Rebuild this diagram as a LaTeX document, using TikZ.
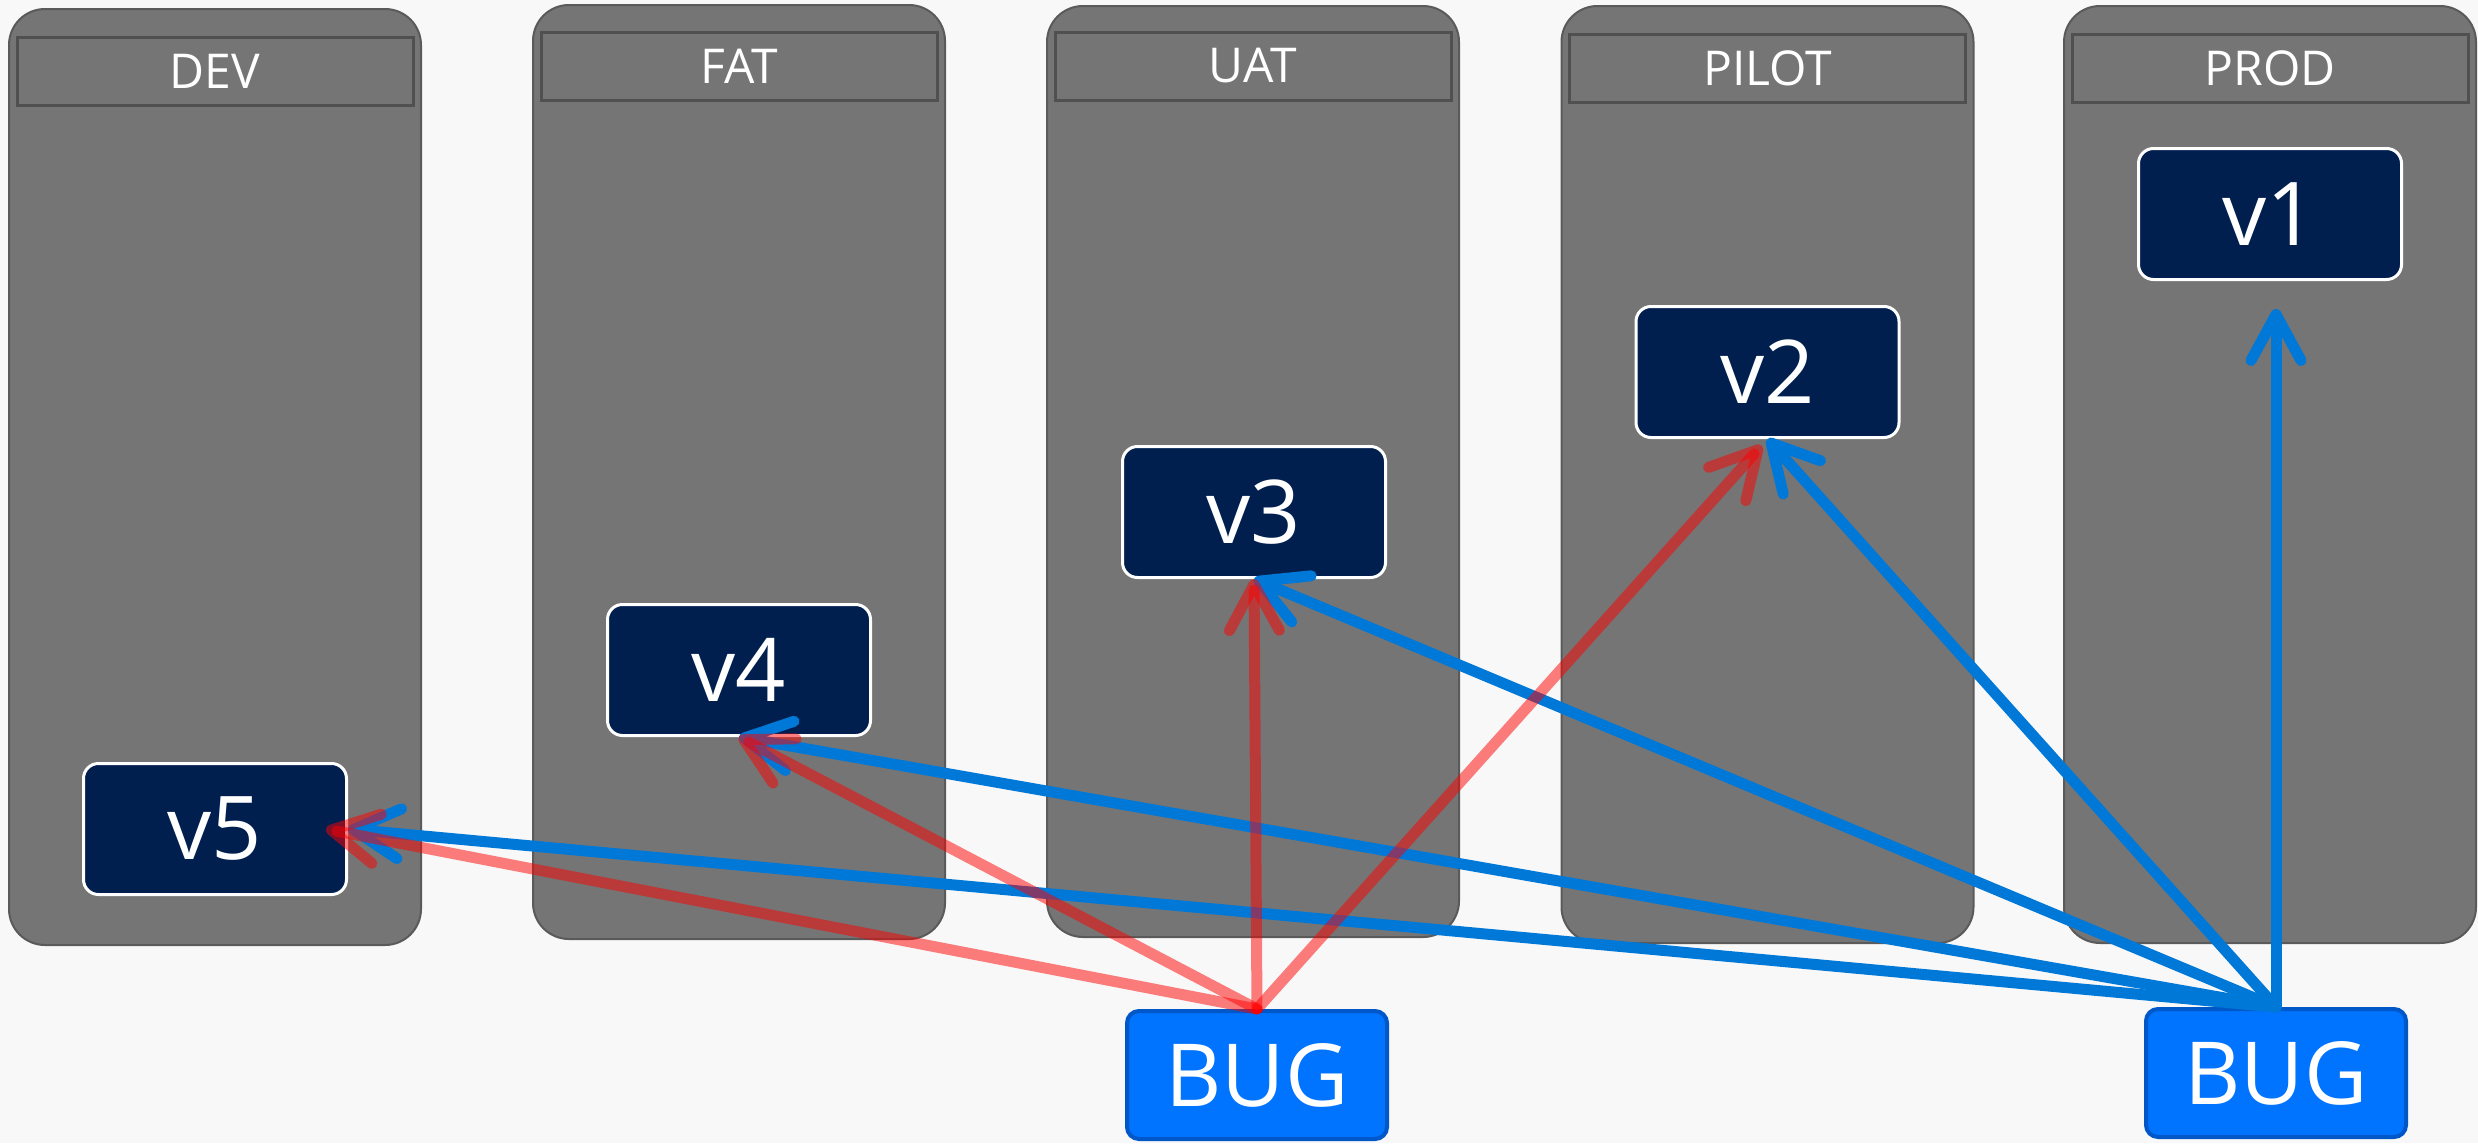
\documentclass[tikz,border=0pt]{standalone}
\usepackage{fontspec}
\setmainfont{Open Sans}
\usetikzlibrary{arrows.meta}
\definecolor{bgc}{HTML}{F8F8F8}
\definecolor{lanefill}{HTML}{757575}
\definecolor{laneline}{HTML}{5A5A5A}
\definecolor{headline}{HTML}{505050}
\definecolor{navy}{HTML}{001F4F}
\definecolor{bugfill}{HTML}{0073FF}
\definecolor{bugline}{HTML}{0058C8}
\definecolor{fixblue}{HTML}{0078D7}
\begin{document}
\begin{tikzpicture}[x=1pt,y=-1pt,
  lane/.style={fill=lanefill,draw=laneline,line width=2pt,rounded corners=36pt,
    minimum width=412pt,inner sep=0pt},
  lanehead/.style={fill=lanefill,draw=headline,line width=3pt,inner sep=0pt,
    minimum width=396pt,minimum height=68pt,text=white,
    font=\fontsize{48}{56}\selectfont},
  version/.style={fill=navy,draw=white,line width=3pt,rounded corners=15pt,
    minimum width=263pt,minimum height=131pt,inner sep=0pt,text=white,
    font=\fontsize{88}{100}\selectfont},
  bugbox/.style={fill=bugfill,draw=bugline,line width=4pt,rounded corners=12pt,
    minimum width=260pt,minimum height=128pt,inner sep=0pt,text=white,
    font=\fontsize{87}{100}\selectfont},
  fixline/.style={draw=fixblue,line width=11pt,line cap=round,
    -{Straight Barb[length=46pt,width=50pt,round]}},
  bugline/.style={draw=red,opacity=0.5,line width=11pt,line cap=round,
    -{Straight Barb[length=46pt,width=50pt,round]}}
]
% canvas
\fill[bgc] (0,0) rectangle (2478,1143);
\useasboundingbox (0,0) rectangle (2478,1143);

% environment lanes
\node[lane,minimum height=936pt] (devlane)   at (215,477)    {};
\node[lane,minimum height=934pt] (fatlane)   at (739,472)    {};
\node[lane,minimum height=931pt] (uatlane)   at (1253,471.5) {};
\node[lane,minimum height=937pt] (pilotlane) at (1767.5,474.5) {};
\node[lane,minimum height=937pt] (prodlane)  at (2270,474.5) {};

% lane headers
\node[lanehead] (devhead)   at (215,71)    {DEV};
\node[lanehead] (fathead)   at (739,66)    {FAT};
\node[lanehead] (uathead)   at (1253,66)   {UAT};
\node[lanehead] (pilothead) at (1767.5,68.5) {PILOT};
\node[lanehead] (prodhead)  at (2270,68.5) {PROD};

% deployed versions
\node[version] (v5) at (215,829)    {v5};
\node[version] (v4) at (739,670)    {v4};
\node[version] (v3) at (1254,512)   {v3};
\node[version] (v2) at (1767.5,372) {v2};
\node[version] (v1) at (2270,214)   {v1};

% bug reports
\node[bugbox] (bugA) at (1257,1075) {BUG};
\node[bugbox] (bugB) at (2276,1073) {BUG};

% fixes pushed to every environment
\draw[fixline] (bugB.north) -- (v5.east);
\draw[fixline] (bugB.north) -- (v4.south);
\draw[fixline] (bugB.north) -- (v3.south);
\draw[fixline] (bugB.north) -- (v2.south);
\draw[fixline,shorten >=28pt] (bugB.north) -- (bugB.north |- v1.south);

% defects traced back to earlier versions
\draw[bugline] (bugA.north) -- ([xshift=-22pt]v5.east);
\draw[bugline] (bugA.north) -- (v4.south);
\draw[bugline] (bugA.north) -- (v3.south);
\draw[bugline,shorten >=9pt] (bugA.north) -- (v2.south);
\end{tikzpicture}
\end{document}
